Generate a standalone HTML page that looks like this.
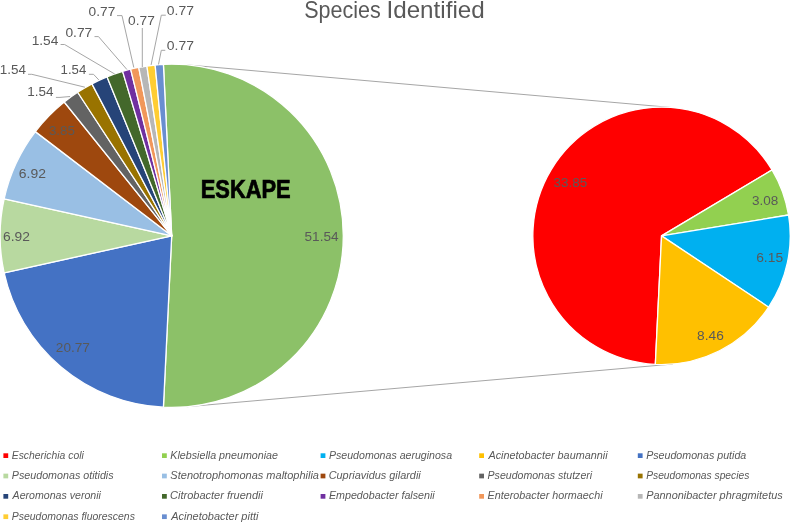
<!DOCTYPE html>
<html><head><meta charset="utf-8"><style>
html,body{margin:0;padding:0;background:#fff;}
svg{display:block;will-change:transform;}
text{font-family:"Liberation Sans",sans-serif;font-kerning:none;}
</style></head><body>
<svg width="790" height="522" viewBox="0 0 790 522">
<rect width="790" height="522" fill="#fff"/>
<line x1="186.73" y1="64.86" x2="672.82" y2="107.64" stroke="#A6A6A6" stroke-width="1"/><line x1="186.73" y1="406.74" x2="672.82" y2="364.06" stroke="#A6A6A6" stroke-width="1"/>
<g stroke="#fff" stroke-width="1.3" stroke-linejoin="round"><path d="M171.700 235.800 L163.409 64.400 A171.600 171.600 0 1 1 163.409 407.200 Z" fill="#8CC168"/><path d="M171.700 235.800 L163.409 407.200 A171.600 171.600 0 0 1 4.143 272.829 Z" fill="#4472C4"/><path d="M171.700 235.800 L4.143 272.829 A171.600 171.600 0 0 1 4.143 198.771 Z" fill="#B8D9A0"/><path d="M171.700 235.800 L4.143 198.771 A171.600 171.600 0 0 1 35.350 131.611 Z" fill="#99BFE4"/><path d="M171.700 235.800 L35.350 131.611 A171.600 171.600 0 0 1 64.247 102.008 Z" fill="#9E480E"/><path d="M171.700 235.800 L64.247 102.008 A171.600 171.600 0 0 1 77.661 92.262 Z" fill="#636363"/><path d="M171.700 235.800 L77.661 92.262 A171.600 171.600 0 0 1 91.954 83.856 Z" fill="#997300"/><path d="M171.700 235.800 L91.954 83.856 A171.600 171.600 0 0 1 106.991 76.868 Z" fill="#264478"/><path d="M171.700 235.800 L106.991 76.868 A171.600 171.600 0 0 1 122.632 71.365 Z" fill="#43682B"/><path d="M171.700 235.800 L122.632 71.365 A171.600 171.600 0 0 1 130.633 69.186 Z" fill="#7030A0"/><path d="M171.700 235.800 L130.633 69.186 A171.600 171.600 0 0 1 138.731 67.397 Z" fill="#F1975A"/><path d="M171.700 235.800 L138.731 67.397 A171.600 171.600 0 0 1 146.906 66.001 Z" fill="#B7B7B7"/><path d="M171.700 235.800 L146.906 66.001 A171.600 171.600 0 0 1 155.138 65.001 Z" fill="#FFCD33"/><path d="M171.700 235.800 L155.138 65.001 A171.600 171.600 0 0 1 163.409 64.400 Z" fill="#698ED0"/></g>
<g stroke="#fff" stroke-width="1.3" stroke-linejoin="round"><path d="M661.550 235.850 L655.332 364.400 A128.700 128.700 0 1 1 772.083 169.925 Z" fill="#FF0000"/><path d="M661.550 235.850 L772.083 169.925 A128.700 128.700 0 0 1 788.551 215.007 Z" fill="#92D050"/><path d="M661.550 235.850 L788.551 215.007 A128.700 128.700 0 0 1 768.666 307.193 Z" fill="#00B0F0"/><path d="M661.550 235.850 L768.666 307.193 A128.700 128.700 0 0 1 655.332 364.400 Z" fill="#FFC000"/></g>
<polyline points="60.6,44.5 64.6,44.5 114.7,74.0" fill="none" stroke="#A6A6A6" stroke-width="1"/><polyline points="94.5,36.6 98.5,36.6 126.9,69.5" fill="none" stroke="#A6A6A6" stroke-width="1"/><polyline points="117.0,15.6 122.0,15.6 133.8,67.5" fill="none" stroke="#A6A6A6" stroke-width="1"/><polyline points="142.3,28.0 142.3,67.0" fill="none" stroke="#A6A6A6" stroke-width="1"/><polyline points="165.8,15.2 161.3,15.2 151.1,64.9" fill="none" stroke="#A6A6A6" stroke-width="1"/><polyline points="165.3,50.3 161.3,50.3 158.5,64.4" fill="none" stroke="#A6A6A6" stroke-width="1"/><polyline points="28.0,74.3 31.8,74.3 84.9,87.2" fill="none" stroke="#A6A6A6" stroke-width="1"/><polyline points="88.9,74.3 93.5,74.3 98.8,79.9" fill="none" stroke="#A6A6A6" stroke-width="1"/><polyline points="55.9,97.4 60.0,97.4 70.1,96.5" fill="none" stroke="#A6A6A6" stroke-width="1"/>
<text x="304.56" y="240.90" font-size="13.60" font-weight="normal" font-style="normal" fill="#595959" textLength="34.04" lengthAdjust="spacingAndGlyphs">51.54</text><text x="55.82" y="352.20" font-size="13.60" font-weight="normal" font-style="normal" fill="#595959" textLength="34.07" lengthAdjust="spacingAndGlyphs">20.77</text><text x="3.10" y="240.70" font-size="13.60" font-weight="normal" font-style="normal" fill="#595959" textLength="26.90" lengthAdjust="spacingAndGlyphs">6.92</text><text x="18.79" y="177.60" font-size="13.60" font-weight="normal" font-style="normal" fill="#595959" textLength="27.11" lengthAdjust="spacingAndGlyphs">6.92</text><text x="48.89" y="134.50" font-size="13.60" font-weight="normal" font-style="normal" fill="#595959" textLength="26.07" lengthAdjust="spacingAndGlyphs">3.85</text><text x="27.17" y="96.00" font-size="13.60" font-weight="normal" font-style="normal" fill="#595959" textLength="26.22" lengthAdjust="spacingAndGlyphs">1.54</text><text x="-0.33" y="74.20" font-size="13.60" font-weight="normal" font-style="normal" fill="#595959" textLength="26.22" lengthAdjust="spacingAndGlyphs">1.54</text><text x="60.59" y="74.30" font-size="13.60" font-weight="normal" font-style="normal" fill="#595959" textLength="25.69" lengthAdjust="spacingAndGlyphs">1.54</text><text x="31.65" y="44.60" font-size="13.60" font-weight="normal" font-style="normal" fill="#595959" textLength="26.75" lengthAdjust="spacingAndGlyphs">1.54</text><text x="65.46" y="36.50" font-size="13.60" font-weight="normal" font-style="normal" fill="#595959" textLength="26.83" lengthAdjust="spacingAndGlyphs">0.77</text><text x="88.56" y="15.60" font-size="13.60" font-weight="normal" font-style="normal" fill="#595959" textLength="26.73" lengthAdjust="spacingAndGlyphs">0.77</text><text x="128.06" y="24.60" font-size="13.60" font-weight="normal" font-style="normal" fill="#595959" textLength="26.73" lengthAdjust="spacingAndGlyphs">0.77</text><text x="166.76" y="15.20" font-size="13.60" font-weight="normal" font-style="normal" fill="#595959" textLength="27.15" lengthAdjust="spacingAndGlyphs">0.77</text><text x="166.76" y="49.80" font-size="13.60" font-weight="normal" font-style="normal" fill="#595959" textLength="27.15" lengthAdjust="spacingAndGlyphs">0.77</text><text x="553.59" y="187.40" font-size="13.60" font-weight="normal" font-style="normal" fill="#595959" textLength="33.78" lengthAdjust="spacingAndGlyphs">33.85</text><text x="751.99" y="204.90" font-size="13.60" font-weight="normal" font-style="normal" fill="#595959" textLength="26.30" lengthAdjust="spacingAndGlyphs">3.08</text><text x="756.20" y="262.00" font-size="13.60" font-weight="normal" font-style="normal" fill="#595959" textLength="26.88" lengthAdjust="spacingAndGlyphs">6.15</text><text x="697.10" y="339.90" font-size="13.60" font-weight="normal" font-style="normal" fill="#595959" textLength="26.70" lengthAdjust="spacingAndGlyphs">8.46</text>
<text x="304.22" y="18.00" font-size="23.40" font-weight="normal" font-style="normal" fill="#595959" textLength="76.55" lengthAdjust="spacingAndGlyphs">Species</text><text x="386.46" y="18.00" font-size="23.40" font-weight="normal" font-style="normal" fill="#595959" textLength="98.30" lengthAdjust="spacingAndGlyphs">Identified</text>
<text x="200.69" y="197.75" font-size="25.50" font-weight="bold" font-style="normal" fill="#000000" textLength="90.02" lengthAdjust="spacingAndGlyphs" stroke="#000" stroke-width="0.7">ESKAPE</text>
<rect x="3.40" y="453.30" width="4.8" height="4.7" fill="#FF0000"/><text x="11.78" y="458.60" font-size="10.40" font-weight="normal" font-style="italic" fill="#595959" textLength="71.99" lengthAdjust="spacingAndGlyphs">Escherichia coli</text><rect x="3.40" y="473.65" width="4.8" height="4.7" fill="#B8D9A0"/><text x="11.77" y="479.00" font-size="10.40" font-weight="normal" font-style="italic" fill="#595959" textLength="101.85" lengthAdjust="spacingAndGlyphs">Pseudomonas otitidis</text><rect x="3.40" y="494.00" width="4.8" height="4.7" fill="#264478"/><text x="12.62" y="499.40" font-size="10.40" font-weight="normal" font-style="italic" fill="#595959" textLength="88.34" lengthAdjust="spacingAndGlyphs">Aeromonas veronii</text><rect x="3.40" y="514.35" width="4.8" height="4.7" fill="#FFCD33"/><text x="11.78" y="519.80" font-size="10.40" font-weight="normal" font-style="italic" fill="#595959" textLength="123.14" lengthAdjust="spacingAndGlyphs">Pseudomonas fluorescens</text><rect x="162.00" y="453.30" width="4.8" height="4.7" fill="#92D050"/><text x="170.37" y="458.60" font-size="10.40" font-weight="normal" font-style="italic" fill="#595959" textLength="107.63" lengthAdjust="spacingAndGlyphs">Klebsiella pneumoniae</text><rect x="162.00" y="473.65" width="4.8" height="4.7" fill="#99BFE4"/><text x="170.39" y="479.00" font-size="10.40" font-weight="normal" font-style="italic" fill="#595959" textLength="148.59" lengthAdjust="spacingAndGlyphs">Stenotrophomonas maltophilia</text><rect x="162.00" y="494.00" width="4.8" height="4.7" fill="#43682B"/><text x="170.09" y="499.40" font-size="10.40" font-weight="normal" font-style="italic" fill="#595959" textLength="92.86" lengthAdjust="spacingAndGlyphs">Citrobacter fruendii</text><rect x="162.00" y="514.35" width="4.8" height="4.7" fill="#698ED0"/><text x="171.24" y="519.80" font-size="10.40" font-weight="normal" font-style="italic" fill="#595959" textLength="87.21" lengthAdjust="spacingAndGlyphs">Acinetobacter pitti</text><rect x="320.60" y="453.30" width="4.8" height="4.7" fill="#00B0F0"/><text x="328.97" y="458.60" font-size="10.40" font-weight="normal" font-style="italic" fill="#595959" textLength="123.09" lengthAdjust="spacingAndGlyphs">Pseudomonas aeruginosa</text><rect x="320.60" y="473.65" width="4.8" height="4.7" fill="#9E480E"/><text x="328.70" y="479.00" font-size="10.40" font-weight="normal" font-style="italic" fill="#595959" textLength="92.06" lengthAdjust="spacingAndGlyphs">Cupriavidus gilardii</text><rect x="320.60" y="494.00" width="4.8" height="4.7" fill="#7030A0"/><text x="328.97" y="499.40" font-size="10.40" font-weight="normal" font-style="italic" fill="#595959" textLength="105.69" lengthAdjust="spacingAndGlyphs">Empedobacter falsenii</text><rect x="479.20" y="453.30" width="4.8" height="4.7" fill="#FFC000"/><text x="488.43" y="458.60" font-size="10.40" font-weight="normal" font-style="italic" fill="#595959" textLength="119.12" lengthAdjust="spacingAndGlyphs">Acinetobacter baumannii</text><rect x="479.20" y="473.65" width="4.8" height="4.7" fill="#636363"/><text x="487.57" y="479.00" font-size="10.40" font-weight="normal" font-style="italic" fill="#595959" textLength="104.59" lengthAdjust="spacingAndGlyphs">Pseudomonas stutzeri</text><rect x="479.20" y="494.00" width="4.8" height="4.7" fill="#F1975A"/><text x="487.57" y="499.40" font-size="10.40" font-weight="normal" font-style="italic" fill="#595959" textLength="114.99" lengthAdjust="spacingAndGlyphs">Enterobacter hormaechi</text><rect x="637.80" y="453.30" width="4.8" height="4.7" fill="#4472C4"/><text x="646.17" y="458.60" font-size="10.40" font-weight="normal" font-style="italic" fill="#595959" textLength="100.09" lengthAdjust="spacingAndGlyphs">Pseudomonas putida</text><rect x="637.80" y="473.65" width="4.8" height="4.7" fill="#997300"/><text x="646.18" y="479.00" font-size="10.40" font-weight="normal" font-style="italic" fill="#595959" textLength="103.13" lengthAdjust="spacingAndGlyphs">Pseudomonas species</text><rect x="637.80" y="494.00" width="4.8" height="4.7" fill="#B7B7B7"/><text x="646.16" y="499.40" font-size="10.40" font-weight="normal" font-style="italic" fill="#595959" textLength="136.56" lengthAdjust="spacingAndGlyphs">Pannonibacter phragmitetus</text>
</svg>
</body></html>
